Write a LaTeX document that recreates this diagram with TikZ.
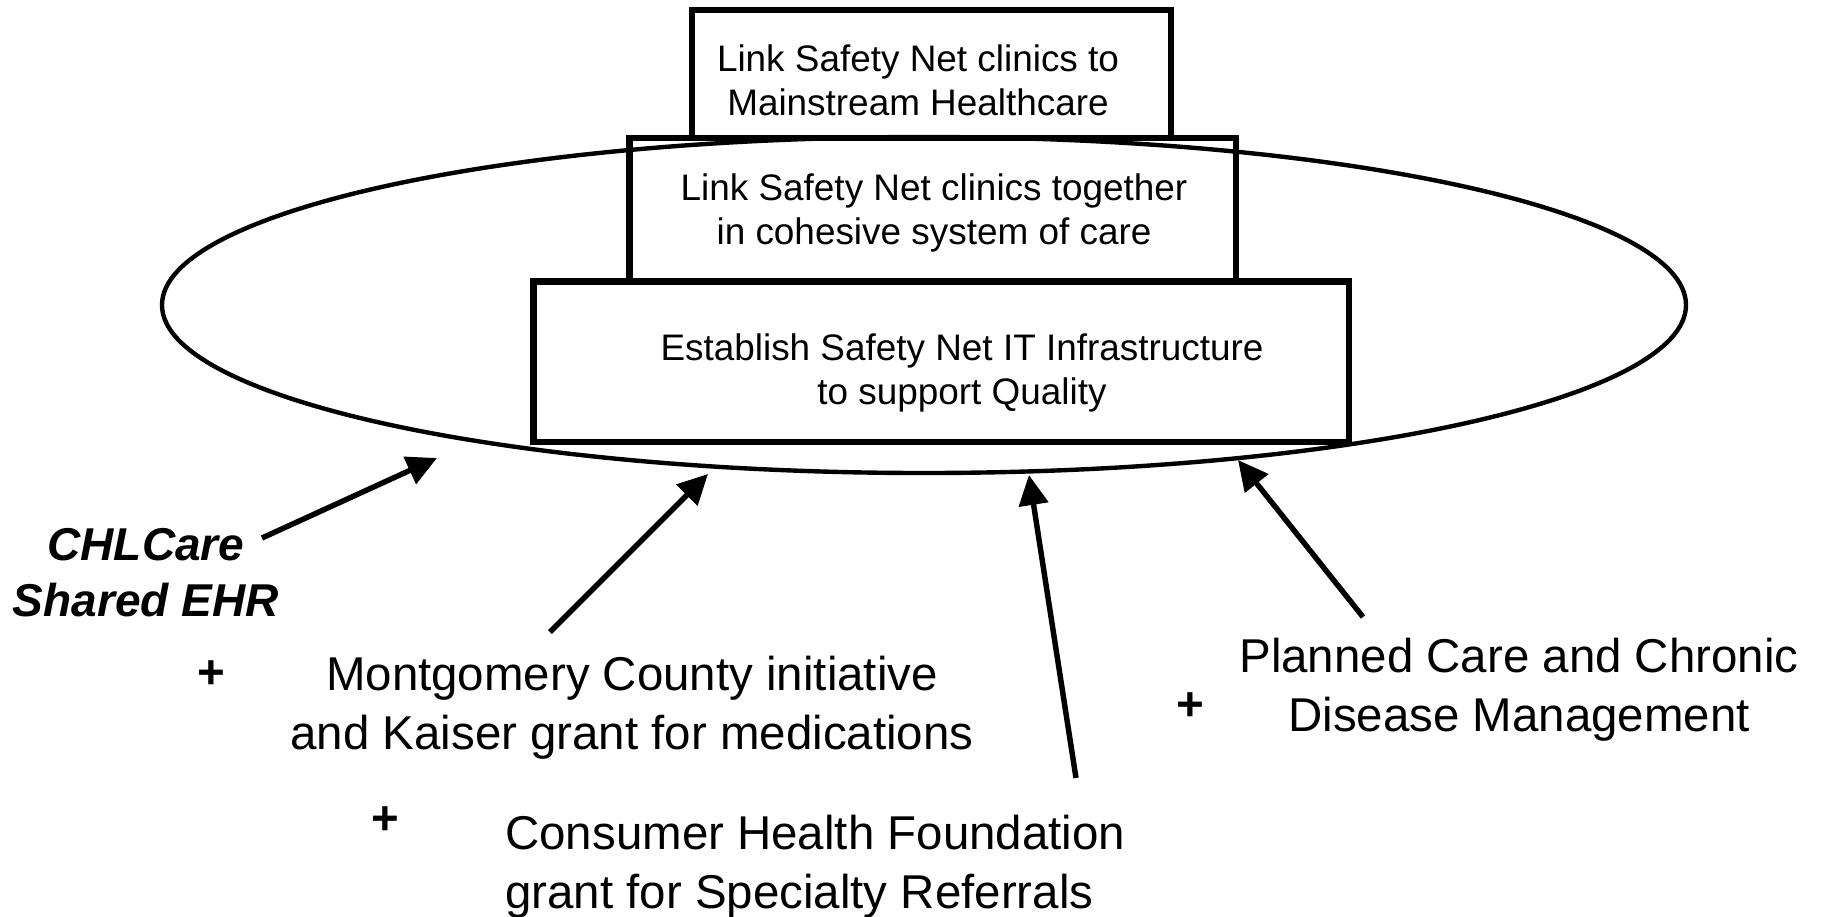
\documentclass[tikz,border=0pt]{standalone}
\usepackage{fontspec}
\setmainfont{Liberation Sans}
\usetikzlibrary{positioning,shapes.geometric,arrows.meta}

\begin{document}
\begin{tikzpicture}[
  x=1cm, y=1cm,
  tier/.style={draw, line width=3.7pt, inner sep=0pt, outer sep=0pt},
  tiertext/.style={align=center, inner sep=0pt, font=\fontsize{21}{25}\selectfont},
  ring/.style={draw, ellipse, line width=2.5pt, inner sep=0pt,
               minimum width=30.48cm, minimum height=6.72cm},
  lbl/.style={align=center, inner sep=0pt, font=\fontsize{27}{33.3}\selectfont},
  plussign/.style={inner sep=0pt, font=\fontsize{27}{33.3}\selectfont\bfseries},
  feed/.style={-{Triangle[length=6mm, width=5.8mm]}, line width=3.1pt}
]
\useasboundingbox (0,0) rectangle (36.42,-18.32);

% the ring sits behind the stacked boxes
\node[ring] (ring) at (18.48,-6.10) {};

\node[tier, minimum width=9.58cm, minimum height=2.56cm] (reach) at (18.63,-1.48) {};
\node[tier, minimum width=12.13cm, minimum height=2.87cm, below=0pt of reach, xshift=0.025cm] (link) {};
\node[tier, minimum width=16.31cm, minimum height=3.21cm, below=0pt of link, xshift=0.17cm] (infra) {};

\node[tiertext] (reachtxt) at (18.36,-1.60) {Link Safety Net clinics to\\Mainstream Healthcare};
\node[tiertext] (linktxt) at (18.68,-4.26) {Link Safety Net clinics together\\in cohesive system of care};
\node[tiertext] (infratxt) at (19.24,-7.46) {Establish Safety Net IT Infrastructure\\to support Quality};

% contributing efforts
\node[lbl, font=\fontsize{26.2}{31.9}\selectfont\bfseries\itshape] (ehr) at (2.92,-11.46) {CHLCare\\Shared EHR};
\node[lbl] (mont) at (12.64,-14.15) {Montgomery County initiative\\and Kaiser grant for medications};
\node[lbl, align=left, anchor=west] (chf) at (10.10,-17.33) {Consumer Health Foundation\\grant for Specialty Referrals};
\node[lbl] (plan) at (30.38,-13.79) {Planned Care and Chronic\\Disease Management};

\node[plussign] (p1) at (4.22,-13.50) {+};
\node[plussign] (p2) at (7.70,-16.42) {+};
\node[plussign] (p3) at (23.80,-14.14) {+};

\coordinate (ehrFrom) at (5.24,-10.76);
\coordinate (ehrTo) at (8.74,-9.16);
\coordinate (montFrom) at (11.00,-12.64);
\coordinate (montTo) at (14.16,-9.48);
\coordinate (chfFrom) at (21.52,-15.56);
\coordinate (chfTo) at (20.58,-9.50);
\coordinate (planFrom) at (27.26,-12.34);
\coordinate (planTo) at (24.76,-9.20);

\draw[feed] (ehrFrom) -- (ehrTo);
\draw[feed] (montFrom) -- (montTo);
\draw[feed] (chfFrom) -- (chfTo);
\draw[feed] (planFrom) -- (planTo);
\end{tikzpicture}
\end{document}
